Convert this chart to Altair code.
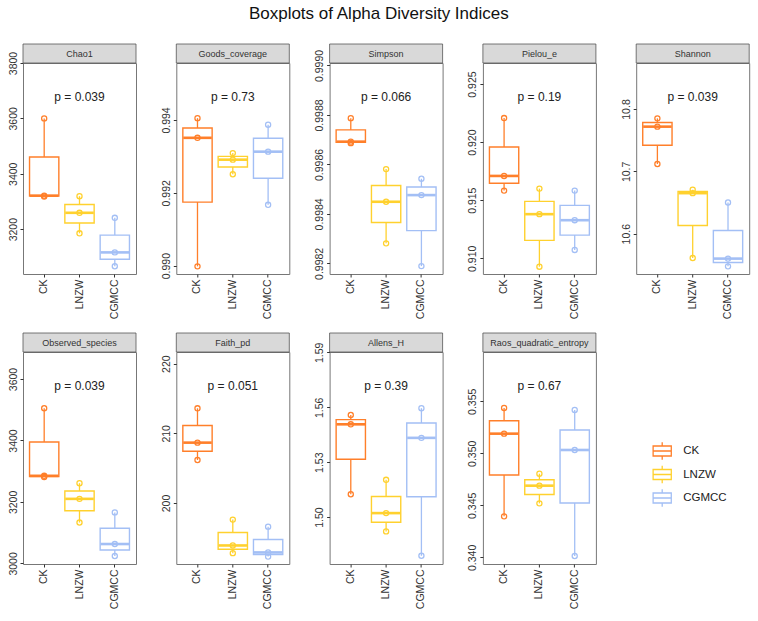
import altair as alt
import numpy as np
import pandas as pd

groups = ["CK", "LNZW", "CGMCC"]
colors = ["#FF7F2A", "#FFD12E", "#A3BFF5"]

indices = ["Chao1", "Goods_coverage", "Simpson", "Pielou_e", "Shannon",
           "Observed_species", "Faith_pd", "Allens_H", "Raos_quadratic_entropy"]

# three samples per group, in order CK, LNZW, CGMCC
chao1 = [3318, 3321, 3600, 3185, 3259, 3319, 3066, 3116, 3241]
goods_coverage = [0.98998, 0.99351, 0.99405, 0.99251, 0.99291, 0.99309, 0.99167, 0.99313, 0.99387]
simpson = [0.998686, 0.998692, 0.998787, 0.998281, 0.998449, 0.998581, 0.998189, 0.998476, 0.998542]
pielou_e = [0.91583, 0.91709, 0.92207, 0.90928, 0.91380, 0.91600, 0.91072, 0.91328, 0.91583]
shannon = [10.7118, 10.7717, 10.7850, 10.5610, 10.6650, 10.6706, 10.5476, 10.5600, 10.6500]
observed_species = [3281, 3285, 3505, 3133, 3210, 3261, 3024, 3063, 3166]
faith_pd = [206.17, 208.66, 213.59, 192.80, 193.90, 197.61, 192.30, 192.90, 196.60]
allens_h = [1.5125, 1.5507, 1.5558, 1.4922, 1.5022, 1.5204, 1.4789, 1.5433, 1.5595]
raos_qe = [0.34394, 0.35189, 0.35436, 0.34519, 0.34689, 0.34804, 0.34013, 0.35032, 0.35417]

series = [chao1, goods_coverage, simpson, pielou_e, shannon,
          observed_species, faith_pd, allens_h, raos_qe]

p_values = ["0.039", "0.73", "0.066", "0.19", "0.039", "0.039", "0.051", "0.39", "0.67"]

y_domains = [[3038, 3800], [0.98977, 0.995565], [0.998157, 0.99901], [0.90865, 0.92681],
             [10.5353, 10.8738], [2998, 3688], [191.24, 221.67], [1.4744, 1.5902],
             [0.33936, 0.35974]]
y_ticks = [[3200, 3400, 3600, 3800], [0.990, 0.992, 0.994],
           [0.9982, 0.9984, 0.9986, 0.9988, 0.9990], [0.910, 0.915, 0.920, 0.925],
           [10.6, 10.7, 10.8], [3000, 3200, 3400, 3600], [200, 210, 220],
           [1.50, 1.53, 1.56, 1.59], [0.340, 0.345, 0.350, 0.355]]
y_formats = ["d", ".3f", ".4f", ".3f", ".1f", "d", "d", ".2f", ".3f"]

W = 113
FONT = "Liberation Sans"

color_scale = alt.Scale(domain=groups, range=colors)


def make_panel(i, h):
    name = indices[i]
    vals = series[i]
    rows = [{"group": g, "value": v} for gi, g in enumerate(groups) for v in vals[gi * 3:(gi + 1) * 3]]
    pts = pd.DataFrame(rows)
    stat_rows = []
    for gi, g in enumerate(groups):
        v = np.array(vals[gi * 3:(gi + 1) * 3], dtype=float)
        stat_rows.append({"group": g, "lo": v.min(), "q1": np.percentile(v, 25),
                          "med": np.median(v), "q3": np.percentile(v, 75), "hi": v.max()})
    stats = pd.DataFrame(stat_rows)
    lab = pd.DataFrame({"name": [name], "p": ["p = " + p_values[i]]})

    xscale = alt.Scale(domain=groups, paddingInner=0.17, paddingOuter=0.185)
    xaxis = alt.Axis(title=None, labelAngle=-90, labelFontSize=10.5, labelColor="#333333",
                     tickSize=3, tickColor="#333333", domain=False, labelPadding=2)
    yscale = alt.Scale(domain=y_domains[i], nice=False, zero=False)
    yaxis = alt.Axis(title=None, values=y_ticks[i], format=y_formats[i], labelAngle=-90,
                     labelAlign="center", labelBaseline="bottom", labelFontSize=10.5,
                     labelColor="#333333", tickSize=3, tickColor="#333333", grid=False,
                     domain=False, labelPadding=2)
    X = alt.X("group:N", scale=xscale, sort=groups, axis=xaxis)
    col = alt.Color("group:N", scale=color_scale, legend=None)

    strip = alt.Chart(lab).mark_rect(fill="#D9D9D9", stroke="#555555", strokeWidth=0.8).encode(
        x=alt.value(0), x2=alt.value(W), y=alt.value(-19), y2=alt.value(0))
    strip_text = alt.Chart(lab).mark_text(fontSize=9, color="#333333", font=FONT,
                                          fontWeight="normal").encode(
        x=alt.value(W / 2), y=alt.value(-9.5), text="name:N")
    whisk = alt.Chart(stats).mark_rule(strokeWidth=1.3).encode(
        x=X, y=alt.Y("lo:Q", scale=yscale, axis=yaxis), y2="hi:Q", color=col)
    box = alt.Chart(stats).mark_bar(fill="white", strokeWidth=1.4).encode(
        x=X, y=alt.Y("q1:Q", scale=yscale, axis=yaxis), y2="q3:Q", stroke=col)
    med = alt.Chart(stats).mark_tick(thickness=2.6, size=28.5, opacity=1).encode(
        x=X, y=alt.Y("med:Q", scale=yscale, axis=yaxis), color=col)
    dots = alt.Chart(pts).mark_point(filled=False, size=26, strokeWidth=1.3, opacity=1).encode(
        x=X, y=alt.Y("value:Q", scale=yscale, axis=yaxis), color=col)
    ptext = alt.Chart(lab).mark_text(fontSize=12, color="#222222", font=FONT).encode(
        x=alt.value(W / 2), y=alt.value(34), text="p:N")

    return alt.layer(strip, strip_text, whisk, box, med, dots, ptext).properties(
        width=W, height=h, view=alt.ViewBackground(stroke="#777777", strokeWidth=1))


row1 = alt.hconcat(*[make_panel(i, 211) for i in range(5)], spacing=23.3)

leg_df = pd.DataFrame({"group": groups})
leg_y = alt.Y("group:N", sort=groups, axis=None,
              scale=alt.Scale(type="point", domain=groups, range=[99, 146], padding=0))
glyph = "M-1,-0.55H1V0.55H-1Z M-1,0H1 M0,-0.55V-0.95 M0,0.55V0.95"
leg_sym = alt.Chart(leg_df).mark_point(shape=glyph, filled=False, size=330, strokeWidth=1.3,
                                       opacity=1).encode(
    x=alt.value(42), y=leg_y, color=alt.Color("group:N", scale=color_scale, legend=None))
leg_txt = alt.Chart(leg_df).mark_text(align="left", fontSize=11.5, color="#222222", font=FONT).encode(
    x=alt.value(63), y=leg_y, text="group:N")
legend = alt.layer(leg_sym, leg_txt).properties(
    width=100, height=212, view=alt.ViewBackground(stroke=None))

row2 = alt.hconcat(*[make_panel(i, 212) for i in range(5, 9)], legend, spacing=23.3)

chart = alt.vconcat(row1, row2, spacing=12).properties(
    padding={"left": 7, "right": 5, "top": 5, "bottom": 5},
    title=alt.TitleParams("Boxplots of Alpha Diversity Indices", fontSize=17, fontWeight="normal",
                          anchor="middle", font=FONT, color="#111111", offset=20)
).configure(font=FONT).configure_view(stroke="#777777")

chart.save("out.html", embed_options={"renderer": "svg", "actions": False})
